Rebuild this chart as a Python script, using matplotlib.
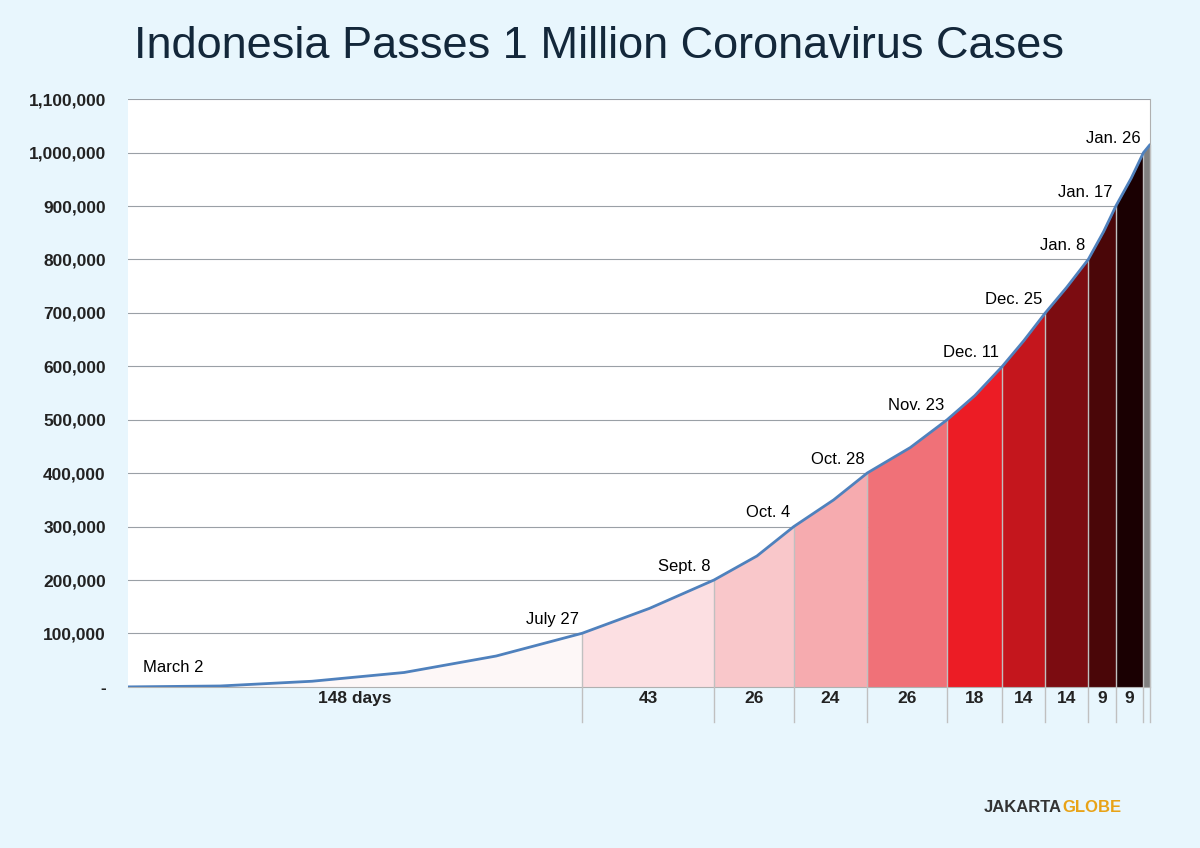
import numpy as np
import matplotlib
matplotlib.use("Agg")
import matplotlib.pyplot as plt

plt.rcParams["font.family"] = "Liberation Sans"

# data: days since March 2 and cumulative cases
curve_days = [0, 30, 60, 90, 120, 148, 170, 191, 205, 217, 230, 241, 255, 267, 276, 285, 292, 299, 306, 313, 318, 322, 327, 331, 333]
curve_cases = [2, 1677, 10551, 26940, 57770, 100303, 147000, 200035, 245000, 300000, 350000, 400483, 448000, 500000, 545000, 600000, 648000, 700000, 748000, 800000, 852000, 900000, 952000, 1000000, 1014000]
milestone_days = [0, 148, 191, 217, 241, 267, 285, 299, 313, 322, 331]
milestone_labels = ["March 2", "July 27", "Sept. 8", "Oct. 4", "Oct. 28", "Nov. 23", "Dec. 11", "Dec. 25", "Jan. 8", "Jan. 17", "Jan. 26"]
gap_labels = ["148 days", "43", "26", "24", "26", "18", "14", "14", "9", "9"]
seg_colors = ["#fdf7f7", "#fcdfe2", "#f9c7ca", "#f6abaf", "#f07178", "#ec1c25", "#c4161d", "#7c0c11", "#4a0608", "#1a0002"]

bg = "#e8f6fd"
fig = plt.figure(figsize=(12, 8.48), dpi=100, facecolor=bg)
ax = fig.add_axes([0.1067, 0.19, 0.8513, 0.693], facecolor="white")
ax.set_xlim(0, 333)
ax.set_ylim(0, 1100000)

xs = np.linspace(0, 333, 3000)
ys = np.interp(xs, curve_days, curve_cases)
bounds = milestone_days + [333]
for i in range(len(seg_colors)):
    a, b = bounds[i], bounds[i + 1]
    m = (xs >= a) & (xs <= b)
    ax.fill_between(xs[m], 0, ys[m], color=seg_colors[i], lw=0, zorder=2)
ax.fill_between(xs[xs >= 331], 0, ys[xs >= 331], color="#808080", lw=0, zorder=2)

ax.set_yticks(np.arange(0, 1100001, 100000))
ax.set_yticklabels(["-"] + [f"{v:,}" for v in range(100000, 1100001, 100000)],
                   fontweight="bold", fontsize=12.5, color="#222222")
ax.grid(axis="y", color="#9aa0a6", lw=0.8, zorder=1)
ax.set_axisbelow(True)
ax.set_xticks([])
ax.tick_params(axis="y", length=0, pad=16)
for s in ["top", "left"]:
    ax.spines[s].set_visible(False)
ax.spines["right"].set_color("#b0b0b0")
ax.spines["bottom"].set_color("#b0b0b0")

ax.plot(curve_days, curve_cases, color="#4f81bd", lw=2, zorder=4)

for d in milestone_days[1:] + [333]:
    ax.plot([d, d], [-65000, np.interp(d, curve_days, curve_cases)], color="#c0c0c0",
            lw=1, clip_on=False, zorder=3)

for d, lab in zip(milestone_days, milestone_labels):
    v = np.interp(d, curve_days, curve_cases)
    if lab == "March 2":
        ax.text(5, 22000, lab, fontsize=12, ha="left", va="bottom", zorder=5)
    else:
        ax.text(d - 1, v + 12000, lab, fontsize=12, ha="right", va="bottom", zorder=5)

for i, g in enumerate(gap_labels):
    mid = (milestone_days[i] + milestone_days[i + 1]) / 2
    ax.text(mid, -22000, g, ha="center", va="center", fontsize=12.5, fontweight="bold",
            color="#222222", clip_on=False)

fig.text(0.112, 0.945, "Indonesia Passes 1 Million Coronavirus Cases", fontsize=32.5,
         color="#13273a", ha="left", va="center")
fig.text(0.885, 0.048, "JAKARTA", fontsize=12, fontweight="bold", color="#333333", ha="right", va="center")
fig.text(0.885, 0.048, "GLOBE", fontsize=12, fontweight="bold", color="#e8a317", ha="left", va="center")

fig.savefig("out.png", dpi=100, facecolor=bg)
